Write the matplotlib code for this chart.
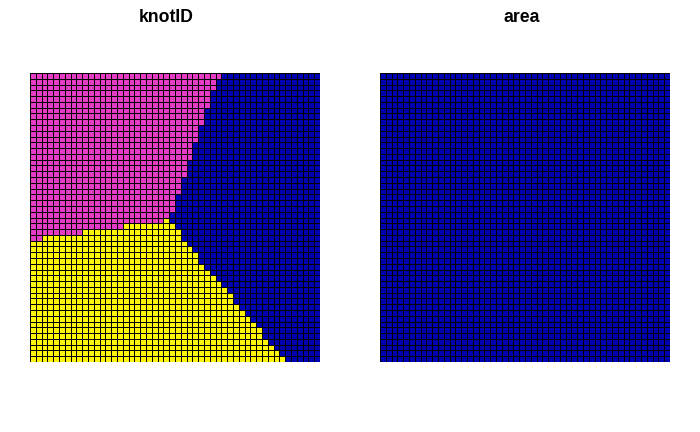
import numpy as np
import matplotlib
matplotlib.use("Agg")
import matplotlib.pyplot as plt
from matplotlib.colors import ListedColormap

# 50 x 50 grid, rows listed from top to bottom
n_cols = 50
# number of pink (knot 2) cells at the start of each row
n_pink = [33, 32, 32, 31, 31, 31, 30, 30, 30, 29,
          29, 29, 28, 28, 28, 27, 27, 27, 26, 26,
          26, 25, 25, 25, 24, 23, 16, 9, 2, 0,
          0, 0, 0, 0, 0, 0, 0, 0, 0, 0,
          0, 0, 0, 0, 0, 0, 0, 0, 0, 0]
# first column that is blue (knot 1) in each row; cells between pink and blue are yellow (knot 3)
first_blue = [33, 32, 32, 31, 31, 31, 30, 30, 30, 29,
              29, 29, 28, 28, 28, 27, 27, 27, 26, 26,
              26, 25, 25, 25, 24, 24, 25, 26, 26, 27,
              28, 29, 29, 30, 31, 32, 33, 34, 35, 35,
              36, 37, 38, 39, 40, 40, 41, 42, 43, 44]
cell_area = 1.0

knot_colors = ["#0000B3", "#E53CC3", "#FFF50A"]  # knot 1, 2, 3

knot = np.zeros((len(n_pink), n_cols), dtype=int)
for r, (p, b) in enumerate(zip(n_pink, first_blue)):
    knot[r, :p] = 1
    knot[r, p:b] = 2
    knot[r, b:] = 0
area = np.full_like(knot, cell_area, dtype=float)

W, H = 700, 432
fig = plt.figure(figsize=(W / 100, H / 100), dpi=100)

def add_panel(x0, title, tx):
    ax = fig.add_axes([x0 / W, 1 - 362 / H, 290 / W, 289 / H])
    ax.set_xlim(0, n_cols)
    ax.set_ylim(len(n_pink), 0)
    ax.axis("off")
    fig.text(tx / W, 1 - 17 / H, title, ha="center", va="center",
             fontsize=12.7, fontweight="bold", family="Liberation Sans")
    return ax

ax1 = add_panel(30, "knotID", 166)
ax1.pcolormesh(np.arange(n_cols + 1), np.arange(len(n_pink) + 1), knot,
               cmap=ListedColormap(knot_colors), vmin=-0.5, vmax=2.5,
               edgecolors="black", linewidth=0.72, antialiased=False)

ax2 = add_panel(380, "area", 522)
ax2.pcolormesh(np.arange(n_cols + 1), np.arange(len(n_pink) + 1), area,
               cmap=ListedColormap([knot_colors[0]]),
               edgecolors="black", linewidth=0.72, antialiased=False)

fig.savefig("out.png", dpi=100)
